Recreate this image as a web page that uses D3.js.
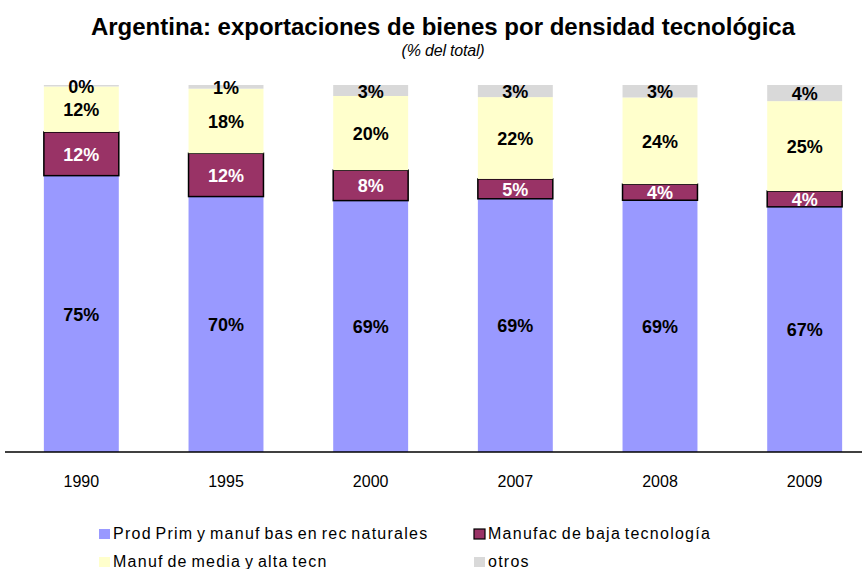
<!DOCTYPE html>
<html>
<head>
<meta charset="utf-8">
<script src="https://cdn.jsdelivr.net/npm/d3@7"></script>
<style>
  body { margin: 0; background: #fff; }
  svg { font-family: "Liberation Sans", Arial, sans-serif; }
</style>
</head>
<body>
<div id="chart-area"></div>
<script>

// SVG Size
var width = 862,
		height = 569;

// Data (% del total)
var years = ["1990", "1995", "2000", "2007", "2008", "2009"];
var seriesNames = ["Prod Prim y manuf bas en rec naturales", "Manufac de baja tecnología",
	"Manuf de media y alta tecn", "otros"];
var prodPrim = [75.3, 69.6, 68.5, 69.0, 68.6, 66.8];
var baja     = [11.9, 11.8, 8.3, 5.4, 4.4, 4.3];
var mediaAlta = [12.4, 17.6, 20.2, 22.3, 23.6, 24.5];
var otros    = [0.4, 1.0, 3.0, 3.3, 3.4, 4.4];

var colors = ["#9999FF", "#993366", "#FFFFCC", "#D9D9D9"];
var labelColors = ["#000", "#fff", "#000", "#000"];

var rows = years.map(function(y, i) {
	return { year: y, s0: prodPrim[i], s1: baja[i], s2: mediaAlta[i], s3: otros[i] };
});

var stack = d3.stack().keys(["s0", "s1", "s2", "s3"]);
var series = stack(rows);

var svg = d3.select("#chart-area").append("svg")
	.attr("width", width)
	.attr("height", height);

var x = d3.scaleBand()
	.domain(years)
	.range([9, 877])
	.paddingInner(0.482)
	.paddingOuter(0.241);

var y = d3.scaleLinear()
	.domain([0, 100])
	.range([452, 85]);

// Title
svg.append("text")
	.attr("x", 443).attr("y", 35)
	.attr("text-anchor", "middle")
	.attr("font-size", 24).attr("font-weight", "bold")
	.text("Argentina: exportaciones de bienes por densidad tecnológica");

svg.append("text")
	.attr("x", 443).attr("y", 56)
	.attr("text-anchor", "middle")
	.attr("font-size", 16).attr("font-style", "italic")
	.attr("letter-spacing", -0.2)
	.text("(% del total)");

// Bars
var groups = svg.selectAll("g.series")
	.data(series)
	.enter().append("g")
	.attr("class", "series");

groups.selectAll("rect")
	.data(function(d) { return d.map(function(p) { return { k: d.index, p: p }; }); })
	.enter().append("rect")
	.attr("x", function(d) { return x(d.p.data.year); })
	.attr("width", x.bandwidth())
	.attr("y", function(d) { return y(d.p[1]); })
	.attr("height", function(d) { return y(d.p[0]) - y(d.p[1]); })
	.attr("fill", function(d) { return colors[d.k]; })
	.attr("stroke", function(d) { return d.k == 1 ? "#000" : "none"; })
	.attr("stroke-width", 1.5);

// Labels
groups.selectAll("text")
	.data(function(d) { return d.map(function(p) { return { k: d.index, p: p }; }); })
	.enter().append("text")
	.attr("x", function(d) { return x(d.p.data.year) + x.bandwidth() / 2; })
	.attr("y", function(d) { return (y(d.p[0]) + y(d.p[1])) / 2 + 7; })
	.attr("text-anchor", "middle")
	.attr("font-size", 18).attr("font-weight", "bold")
	.attr("fill", function(d) { return labelColors[d.k]; })
	.text(function(d) { return Math.round(d.p[1] - d.p[0]) + "%"; });

// Axis
var xAxis = d3.axisBottom(x).tickSize(0).tickPadding(24);
var gx = svg.append("g")
	.attr("transform", "translate(0,452)")
	.call(xAxis);
gx.select(".domain").remove();
gx.selectAll("text")
	.attr("font-size", 16)
	.attr("font-family", "Liberation Sans, Arial, sans-serif")
	.attr("fill", "#000");

svg.append("line")
	.attr("x1", 5).attr("x2", 862)
	.attr("y1", 452).attr("y2", 452)
	.attr("stroke", "#000").attr("stroke-width", 1.5);

// Legend
var legendPos = [[99, 539], [474, 539], [99, 567], [474, 567]];
var legend = svg.selectAll("g.legend")
	.data(seriesNames)
	.enter().append("g")
	.attr("class", "legend")
	.attr("transform", function(d, i) { return "translate(" + legendPos[i][0] + "," + legendPos[i][1] + ")"; });

legend.append("rect")
	.attr("x", 0).attr("y", -10)
	.attr("width", 11).attr("height", 10)
	.attr("fill", function(d, i) { return colors[i]; })
	.attr("stroke", function(d, i) { return i == 1 ? "#000" : "none"; })
	.attr("stroke-width", 1.2);

legend.append("text")
	.attr("x", 14).attr("y", 0)
	.attr("font-size", 16)
	.attr("letter-spacing", 1.25)
	.attr("word-spacing", -2)
	.text(function(d) { return d; });

</script>
</body>
</html>
